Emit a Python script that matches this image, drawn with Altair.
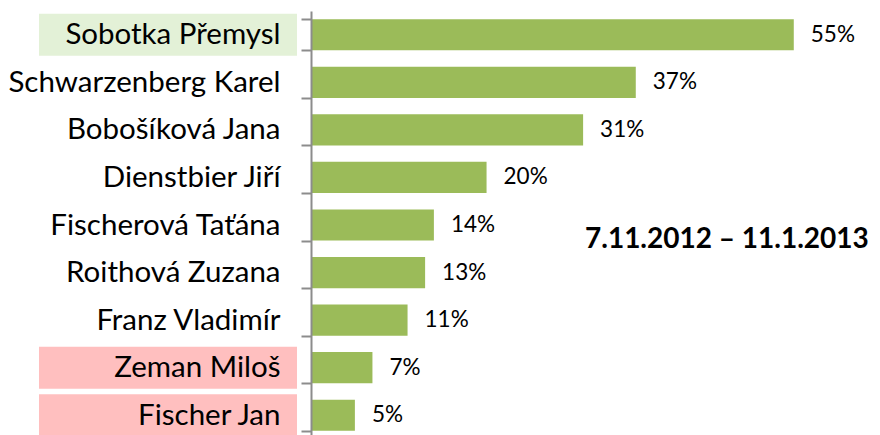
import altair as alt
import pandas as pd

candidates = ["Sobotka Přemysl", "Schwarzenberg Karel", "Bobošíková Jana", "Dienstbier Jiří",
              "Fischerová Taťána", "Roithová Zuzana", "Franz Vladimír", "Zeman Miloš", "Fischer Jan"]
shares = [55, 37, 31, 20, 14, 13, 11, 7, 5]
share_labels = ["55%", "37%", "31%", "20%", "14%", "13%", "11%", "7%", "5%"]
highlights = ["#e3f1d7", "", "", "", "", "", "", "#ffbfbf", "#ffbfbf"]
period_label = ["7.11.2012 – 11.1.2013"]

df = pd.DataFrame({"name": candidates, "share": shares, "label": share_labels, "hl": highlights})
ann = pd.DataFrame({"text": period_label})

FONT = "Lato"
y_enc = alt.Y("name:N", sort=candidates,
              scale=alt.Scale(domain=candidates, paddingInner=0.345, paddingOuter=0.1725),
              axis=alt.Axis(title=None, labelFont=FONT, labelFontSize=29.5, labelColor="#000000",
                            labelPadding=21, labelLimit=400, tickSize=10, tickWidth=2,
                            tickColor="#8c8c8c", domainColor="#8c8c8c", domainWidth=2,
                            tickBand="extent", zindex=1, grid=False))
x_scale = alt.Scale(domain=[0, 63], nice=False)

base = alt.Chart(df)

hl = base.transform_filter("datum.hl != ''").mark_bar(height=42).encode(
    y=y_enc,
    x=alt.value(-272),
    x2=alt.value(-14),
    color=alt.Color("hl:N", scale=None, legend=None),
)

bars = base.mark_bar(color="#9bbb59").encode(
    y=y_enc,
    x=alt.X("share:Q", scale=x_scale, axis=None),
)

vals = base.mark_text(align="left", baseline="middle", dx=17, font=FONT, fontSize=22.5,
                      color="#000000").encode(
    y=y_enc,
    x=alt.X("share:Q", scale=x_scale, axis=None),
    text="label:N",
)

note = alt.Chart(ann).mark_text(align="left", baseline="middle", font=FONT, fontSize=28,
                                 fontWeight="bold", color="#000000").encode(
    x=alt.value(274),
    y=alt.value(229),
    text="text:N",
)

chart = alt.layer(hl, bars, vals, note).properties(
    width=553, height=428,
    autosize=alt.AutoSizeParams(type="none"),
    padding={"left": 303, "top": 3, "right": 8, "bottom": 0},
).configure_view(stroke=None)

chart.save("out.html", embed_options={"renderer": "svg", "actions": False})
